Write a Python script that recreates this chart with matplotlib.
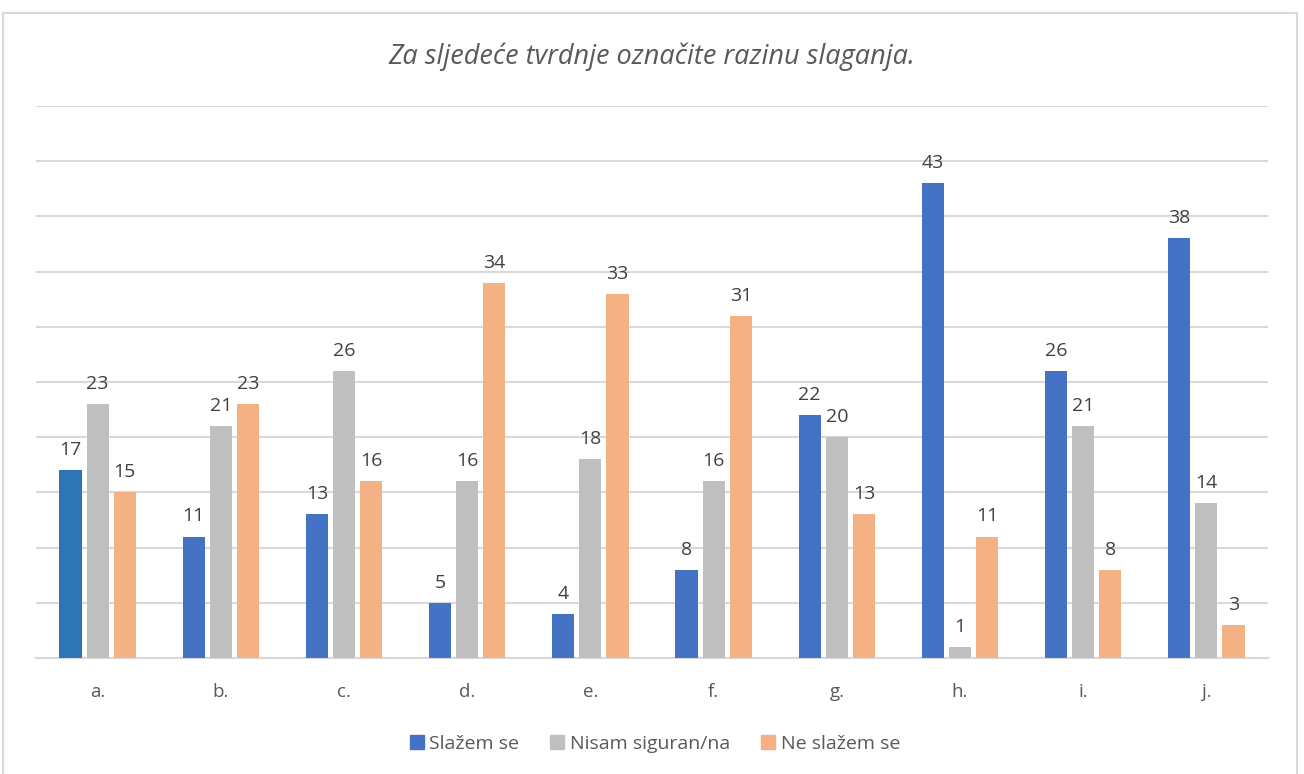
import numpy as np
import matplotlib.pyplot as plt
from matplotlib.patches import Rectangle

categories = ['a.', 'b.', 'c.', 'd.', 'e.', 'f.', 'g.', 'h.', 'i.', 'j.']
slazem = [17, 11, 13, 5, 4, 8, 22, 43, 26, 38]
nisam = [23, 21, 26, 16, 18, 16, 20, 1, 21, 14]
ne_slazem = [15, 23, 16, 34, 33, 31, 13, 11, 8, 3]
series_names = ['Slažem se', 'Nisam siguran/na', 'Ne slažem se']

plt.rcParams['font.family'] = ['Open Sans', 'DejaVu Sans']

fig = plt.figure(figsize=(13.04, 7.74), dpi=100)
ax = fig.add_axes([36/1304, 116/774, 1232/1304, 552/774])

# chart frame like excel
fig.patches.append(Rectangle((3/1304, -0.05), 1294/1304, 1.05 - 13/774, transform=fig.transFigure,
                             fill=False, edgecolor='#D9D9D9', linewidth=1.5))

x = np.arange(len(categories))
w = 0.18
off = 0.22
blue_colors = ['#2E75B6'] + ['#4472C4'] * (len(categories) - 1)

b1 = ax.bar(x - off, slazem, w, color=blue_colors, zorder=3)
b2 = ax.bar(x, nisam, w, color='#BFBFBF', zorder=3)
b3 = ax.bar(x + off, ne_slazem, w, color='#F4B183', zorder=3)

for bars in (b1, b2, b3):
    ax.bar_label(bars, padding=8, fontsize=14, color='#404040')

ax.set_xlim(-0.5, len(categories) - 0.5)
ax.set_ylim(0, 50)
ax.set_yticks(np.arange(0, 51, 5))
ax.yaxis.grid(True, color='#D9D9D9', linewidth=1.5, zorder=0)
ax.tick_params(axis='y', left=False, labelleft=False)
ax.tick_params(axis='x', length=0, labelsize=13.5, labelcolor='#595959', pad=18)
ax.set_xticks(x)
ax.set_xticklabels(categories)
for s in ['top', 'right', 'left']:
    ax.spines[s].set_visible(False)
ax.spines['bottom'].set_color('#D9D9D9')
ax.spines['bottom'].set_linewidth(1.5)

fig.suptitle('Za sljedeće tvrdnje označite razinu slaganja.', y=1 - 57/774, va='center',
             fontsize=19.5, style='italic', color='#595959')

handles = [Rectangle((0, 0), 1, 1, color=c) for c in ['#4472C4', '#BFBFBF', '#F4B183']]
fig.legend(handles, series_names, loc='center', bbox_to_anchor=(655/1304, 1 - 744/774), ncol=3,
           frameon=False, fontsize=14, handlelength=0.7, handleheight=0.7,
           handletextpad=0.3, columnspacing=1.6, labelcolor='#595959')

fig.savefig('out.png', dpi=100)
